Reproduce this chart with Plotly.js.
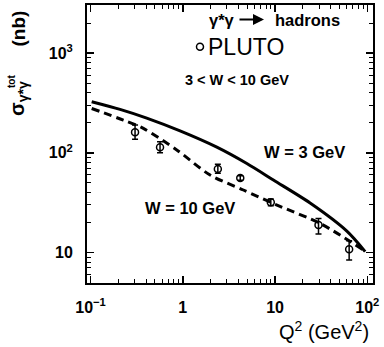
<!DOCTYPE html>
<html>
<head>
<meta charset="utf-8">
<script src="https://cdn.plot.ly/plotly-3.0.1.min.js"></script>
<style>
  html, body { margin: 0; padding: 0; background: #fff; }
  #chart { width: 384px; height: 347px; }
</style>
</head>
<body>
<div id="chart"></div>
<script>
// PLUTO total gamma*gamma cross section vs Q^2, 3 < W < 10 GeV
const plutoQ2 = [0.304, 0.567, 2.40, 4.2, 9.0, 29.6, 63.6];
const plutoSigma = [161, 114, 69, 56, 32, 18.9, 10.8];
const plutoErrUp = [29, 15, 8, 3, 2.5, 3.1, 2.3];
const plutoErrDown = [24, 14, 6.5, 3, 2.5, 3.6, 2.4];

// model curves
const w3Q2 = [0.103, 0.209, 0.407, 0.935, 2.34, 4.95, 9.6, 24.0, 60.1, 94.9];
const w3Sigma = [326, 273, 223, 166, 114, 78.1, 53.4, 31.4, 16.4, 10.2];
const w10Q2 = [0.103, 0.227, 0.374, 0.861, 1.98, 4.54, 10.5, 30.8, 90.9];
const w10Sigma = [279, 213, 176, 107, 59.9, 42.4, 29.9, 19.6, 10.6];

const xTickVals = [0.1, 1, 10, 100];
const xTickText = ['10<sup>\u22121</sup>', '1', '10', '10<sup>2</sup>'];
const yTickVals = [10, 100, 1000];
const yTickText = ['10', '10<sup>2</sup>', '10<sup>3</sup>'];

// minor ticks at 2..9 of every decade
function minorTicks(lo, hi) {
  const out = [];
  for (let e = lo; e < hi; e++) {
    for (let m = 2; m <= 9; m++) out.push(m * Math.pow(10, e));
  }
  return out;
}

const black = '#000';
const sans = 'Liberation Sans, Arial, sans-serif';
const plotLeft = 87, plotRight = 373, plotTop = 5, plotBottom = 283;
const px = v => (v - plotLeft) / (plotRight - plotLeft);
const py = v => (plotBottom - v) / (plotBottom - plotTop);

const traces = [
  {
    x: w3Q2, y: w3Sigma, type: 'scatter', mode: 'lines',
    line: { color: black, width: 3, shape: 'spline', smoothing: 0.8 },
    hoverinfo: 'skip', showlegend: false
  },
  {
    x: w10Q2, y: w10Sigma, type: 'scatter', mode: 'lines',
    line: { color: black, width: 3, dash: '8px,5px', shape: 'spline', smoothing: 0.8 },
    hoverinfo: 'skip', showlegend: false
  },
  {
    x: plutoQ2, y: plutoSigma, type: 'scatter', mode: 'markers',
    marker: { symbol: 'circle-open', size: 7, color: black, line: { width: 1.5, color: black } },
    error_y: { type: 'data', array: plutoErrUp, arrayminus: plutoErrDown, visible: true,
               color: black, thickness: 1.5, width: 3 },
    showlegend: false
  }
];

const axisCommon = {
  type: 'log', showgrid: false, zeroline: false,
  showline: true, linecolor: black, linewidth: 2, mirror: 'ticks',
  ticks: 'inside', ticklen: 7, tickwidth: 1.5, tickcolor: black,
  tickmode: 'array',
  tickfont: { family: sans, size: 16, color: black, weight: 'bold' }
};

// text placed in data coordinates (log10 values on both axes)
const txt = (text, x, y, size, opts) => Object.assign({
  text: text, x: x, y: y, xref: 'x', yref: 'y', showarrow: false,
  xanchor: 'center', yanchor: 'middle',
  font: { family: sans, size: size, color: black, weight: 'bold' }
}, opts || {});

// text placed in page pixels
const pageTxt = (text, x, y, size, opts) => Object.assign({
  text: text, x: px(x), y: py(y), xref: 'paper', yref: 'paper', showarrow: false,
  xanchor: 'center', yanchor: 'middle',
  font: { family: sans, size: size, color: black, weight: 'bold' }
}, opts || {});

const layout = {
  width: 384, height: 347,
  margin: { l: plotLeft, r: 384 - plotRight, t: plotTop, b: 347 - plotBottom },
  paper_bgcolor: '#fff', plot_bgcolor: '#fff',
  showlegend: false,
  xaxis: Object.assign({}, axisCommon, {
    range: [-1.038, 2.062],
    tickvals: xTickVals, ticktext: xTickText, ticklabelstandoff: 9,
    minor: { tickmode: 'array', tickvals: minorTicks(-2, 3), ticks: 'inside', ticklen: 4,
             tickwidth: 1, tickcolor: black, showgrid: false }
  }),
  yaxis: Object.assign({}, axisCommon, {
    range: [0.694, 3.484],
    tickvals: yTickVals, ticktext: yTickText, ticklabelstandoff: 9,
    minor: { tickmode: 'array', tickvals: minorTicks(0, 4), ticks: 'inside', ticklen: 4,
             tickwidth: 1, tickcolor: black, showgrid: false }
  }),
  shapes: [
    // key symbol for the PLUTO entry
    { type: 'circle', xref: 'paper', yref: 'paper',
      x0: px(196.5), x1: px(203.5), y0: py(50.2), y1: py(43.2),
      line: { color: black, width: 1.5 }, fillcolor: 'rgba(0,0,0,0)' }
  ],
  annotations: [
    // process label: gamma*gamma -> hadrons
    pageTxt('\u03b3*\u03b3', 207, 19.5, 16.5, { xanchor: 'left', align: 'left' }),
    { text: '', xref: 'paper', yref: 'paper', x: px(264), y: py(19.5),
      ax: -26, ay: 0, showarrow: true, arrowhead: 2, arrowsize: 1, arrowwidth: 2.2,
      arrowcolor: black, standoff: 0, startstandoff: 0 },
    pageTxt('hadrons', 273, 19.5, 16.5, { xanchor: 'left', align: 'left' }),
    txt('PLUTO', 0.253, 3.061, 23, { xanchor: 'left', align: 'left',
      font: { family: sans, size: 23, color: black } }),
    txt('3 &lt; W &lt; 10 GeV', 0.583, 2.730, 14.5),
    txt('W = 3 GeV', 1.323, 2.011, 16.5),
    txt('W = 10 GeV', 0.074, 1.443, 16.5),
    // axis titles
    pageTxt('Q<sup>2</sup> (GeV<sup>2</sup>)', 371, 330, 20,
      { xanchor: 'right', font: { family: sans, size: 20, color: black } }),
    pageTxt('(nb)', 18, 28.5, 19, { textangle: -90 }),
    pageTxt('\u03c3<sub>\u03b3*\u03b3</sub>', 18, 99, 20, { textangle: -90 }),
    pageTxt('tot', 11, 82, 10, { textangle: -90 })
  ]
};

Plotly.newPlot('chart', traces, layout, { displayModeBar: false, staticPlot: true });
</script>
</body>
</html>
